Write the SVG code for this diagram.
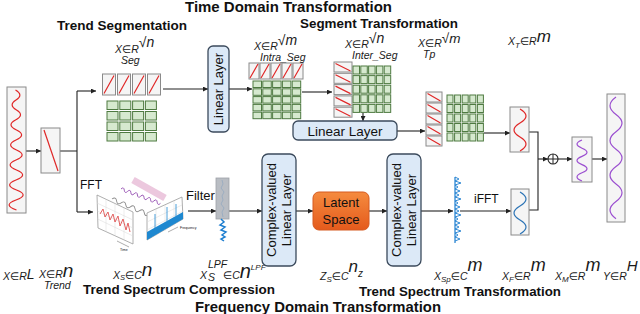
<svg xmlns="http://www.w3.org/2000/svg" xmlns:xlink="http://www.w3.org/1999/xlink" width="640" height="314" viewBox="0 0 640 314">
<defs>
<style>
.tb{font-family:"Liberation Sans",Arial,sans-serif;font-weight:bold;fill:#111}
.tx{font-family:"Liberation Sans",Arial,sans-serif;fill:#111}
.m{font-family:"Liberation Sans","DejaVu Sans",sans-serif;font-style:italic;fill:#1a1a1a;font-size:10.5px}
.bx{fill:#f5f5f5;stroke:#8a8a8a;stroke-width:1}
.gc{fill:#d6e9cf;stroke:#4e7a41;stroke-width:1}
.rd{stroke:#e02828;stroke-width:1.2;fill:none}
.ll{fill:#dce9f7;stroke:#3b4a5c;stroke-width:1.3}
.cn{fill:none;stroke:#222;stroke-width:1.1}
.ar{marker-end:url(#ah)}
.wave{fill:none;stroke-width:1.2}
</style>
<marker id="ah" viewBox="0 0 6 6" refX="6" refY="3" markerWidth="5" markerHeight="5" orient="auto" markerUnits="userSpaceOnUse">
<path d="M0,0 L6,3 L0,6 z" fill="#222"/>
</marker>
<linearGradient id="og" x1="0" y1="0" x2="0" y2="1">
<stop offset="0" stop-color="#f58b3f"/>
<stop offset="1" stop-color="#e45a1c"/>
</linearGradient>
<g id="segrow">
<rect class="gc" x="107" y="101" width="11" height="8.5"/>
<rect class="gc" x="119.8" y="101" width="11" height="8.5"/>
<rect class="gc" x="132.6" y="101" width="11" height="8.5"/>
<rect class="gc" x="145.4" y="101" width="11" height="8.5"/>
</g>
<g id="intrarow">
<rect class="gc" x="253" y="81" width="8.5" height="6.5"/>
<rect class="gc" x="262.8" y="81" width="8.5" height="6.5"/>
<rect class="gc" x="272.6" y="81" width="8.5" height="6.5"/>
<rect class="gc" x="282.4" y="81" width="8.5" height="6.5"/>
<rect class="gc" x="292.2" y="81" width="8.5" height="6.5"/>
</g>
<g id="interrow">
<rect class="gc" x="353" y="66" width="6.5" height="8"/>
<rect class="gc" x="360.8" y="66" width="6.5" height="8"/>
<rect class="gc" x="368.6" y="66" width="6.5" height="8"/>
<rect class="gc" x="376.4" y="66" width="6.5" height="8"/>
<rect class="gc" x="384.2" y="66" width="6.5" height="8"/>
</g>
<g id="tprow">
<rect class="gc" x="447" y="95" width="6" height="8"/>
<rect class="gc" x="454.6" y="95" width="6" height="8"/>
<rect class="gc" x="462.2" y="95" width="6" height="8"/>
<rect class="gc" x="469.8" y="95" width="6" height="8"/>
<rect class="gc" x="477.4" y="95" width="6" height="8"/>
</g>
</defs>
<rect width="640" height="314" fill="#fff"/>

<!-- titles -->
<text class="tb" x="185" y="12" font-size="14.8" textLength="207" lengthAdjust="spacingAndGlyphs">Time Domain Transformation</text>
<text class="tb" x="57" y="30" font-size="13.3" textLength="130" lengthAdjust="spacingAndGlyphs">Trend Segmentation</text>
<text class="tb" x="300" y="27.5" font-size="13.3" textLength="158" lengthAdjust="spacingAndGlyphs">Segment Transformation</text>
<text class="tb" x="83" y="294" font-size="13.3" textLength="192" lengthAdjust="spacingAndGlyphs">Trend Spectrum Compression</text>
<text class="tb" x="359" y="295.5" font-size="13.3" textLength="202" lengthAdjust="spacingAndGlyphs">Trend Spectrum Transformation</text>
<text class="tb" x="195" y="311.5" font-size="14.8" textLength="246" lengthAdjust="spacingAndGlyphs">Frequency Domain Transformation</text>

<!-- connectors -->
<g id="connectors">
<path class="cn ar" d="M26,151 H41"/>
<path class="cn" d="M60,151 H77 M77,91 V212"/>
<path class="cn ar" d="M77,91 H96"/>
<path class="cn ar" d="M77,212 H93"/>
<path class="cn ar" d="M163,89 H208"/>
<path class="cn ar" d="M229,89 H252"/>
<path class="cn ar" d="M302,92 H332"/>
<path class="cn ar" d="M363,113 V121"/>
<path class="cn ar" d="M397,131 H425"/>
<path class="cn ar" d="M484,133 H510"/>
<path class="cn" d="M529,132 H538 V210 H529"/>
<path class="cn ar" d="M538,159 H548"/>
<path class="cn ar" d="M558,159 H572"/>
<path class="cn ar" d="M592,159 H607"/>
<path class="cn ar" d="M188,211 H216"/>
<path class="cn ar" d="M229,211 H262"/>
<path class="cn ar" d="M296,211 H313"/>
<path class="cn ar" d="M369,211 H387"/>
<path class="cn ar" d="M421,211 H453"/>
<path class="cn ar" d="M460,211 H511"/>
</g>

<!-- input series -->
<g id="input">
<rect class="bx" x="7" y="87" width="19" height="126" fill="#fff"/>
<path class="wave" stroke="#e02828" d="M15.5,90 Q24,95 16,100 T16.5,110 T15.5,120 T16.5,130 T16,140 T16.5,150 T16,160 T16.5,170 T16,180 T16.5,190 T16,200 T16.5,210"/>
<text class="m" x="3" y="280">X∈R<tspan dy="-1" font-size="14">L</tspan></text>
</g>

<!-- trend -->
<g id="trend">
<rect class="bx" x="41" y="128" width="19" height="45"/>
<path class="rd" d="M44,130 L58,171"/>
<text class="m" x="39" y="278">X∈R<tspan dy="-1.5" font-size="19">n</tspan></text>
<text class="m" x="44" y="288.5" font-size="9">Trend</text>
</g>

<!-- segmentation -->
<g id="seg">
<rect class="bx" x="102.5" y="74" width="13" height="21"/>
<rect class="bx" x="117.5" y="74" width="13" height="21"/>
<rect class="bx" x="132.5" y="74" width="13" height="21"/>
<rect class="bx" x="147.5" y="74" width="13" height="21"/>
<path class="rd" d="M104,93.5 L114,75.5 M119,93.5 L129,75.5 M134,93.5 L144,75.5 M149,93.5 L159,75.5"/>
<use xlink:href="#segrow"/>
<use xlink:href="#segrow" y="10.5"/>
<use xlink:href="#segrow" y="21"/>
<use xlink:href="#segrow" y="31.5"/>
<text class="m" x="115" y="53" font-size="12">X∈R<tspan dy="-6" font-size="14">√n</tspan></text>
<text class="m" x="121" y="64" font-size="9.5">Seg</text>
</g>

<!-- linear layer vertical -->
<g id="linear1">
<rect class="ll" x="208" y="46" width="21" height="86" rx="5"/>
<text class="tx" font-size="13" text-anchor="middle" transform="translate(223,89) rotate(-90)">Linear Layer</text>
</g>

<!-- intra seg -->
<g id="intra">
<rect class="bx" x="249" y="63" width="10" height="16"/>
<rect class="bx" x="260" y="63" width="10" height="16"/>
<rect class="bx" x="271" y="63" width="10" height="16"/>
<rect class="bx" x="282" y="63" width="10" height="16"/>
<rect class="bx" x="293" y="63" width="10" height="16"/>
<path class="rd" d="M250,78 L258,64 M261,78 L269,64 M272,78 L280,64 M283,78 L291,64 M294,78 L302,64"/>
<use xlink:href="#intrarow"/>
<use xlink:href="#intrarow" y="7.8"/>
<use xlink:href="#intrarow" y="15.6"/>
<use xlink:href="#intrarow" y="23.4"/>
<use xlink:href="#intrarow" y="31.2"/>
<text class="m" x="254" y="50" font-size="12">X∈R<tspan dy="-5" font-size="14">√m</tspan></text>
<text class="m" x="260" y="60.5" font-size="9.5">Intra_Seg</text>
</g>

<!-- inter seg -->
<g id="inter">
<rect class="bx" x="334" y="62" width="18" height="10"/>
<rect class="bx" x="334" y="73.3" width="18" height="10"/>
<rect class="bx" x="334" y="84.6" width="18" height="10"/>
<rect class="bx" x="334" y="95.9" width="18" height="10"/>
<rect class="bx" x="334" y="107.2" width="18" height="10"/>
<path class="rd" d="M335.5,63.5 L350.5,71 M335.5,74.8 L350.5,82.3 M335.5,86.1 L350.5,93.6 M335.5,97.4 L350.5,104.9 M335.5,108.7 L350.5,116.2"/>
<use xlink:href="#interrow"/>
<use xlink:href="#interrow" y="9.6"/>
<use xlink:href="#interrow" y="19.2"/>
<use xlink:href="#interrow" y="28.8"/>
<use xlink:href="#interrow" y="38.4"/>
<text class="m" x="345" y="48" font-size="12">X∈R<tspan dy="-5" font-size="14">√n</tspan></text>
<text class="m" x="352" y="59" font-size="9.5">Inter_Seg</text>
</g>

<!-- linear layer horizontal -->
<g id="linear2">
<rect class="ll" x="293" y="121" width="104" height="19" rx="5"/>
<text class="tx" x="345" y="135.5" font-size="13.5" text-anchor="middle">Linear Layer</text>
</g>

<!-- Tp -->
<g id="tp">
<rect class="bx" x="426" y="92" width="16" height="10"/>
<rect class="bx" x="426" y="103" width="16" height="10"/>
<rect class="bx" x="426" y="114" width="16" height="10"/>
<rect class="bx" x="426" y="125" width="16" height="10"/>
<rect class="bx" x="426" y="136" width="16" height="10"/>
<path class="rd" d="M427.5,93.5 L440.5,101 M427.5,104.5 L440.5,112 M427.5,115.5 L440.5,123 M427.5,126.5 L440.5,134 M427.5,137.5 L440.5,145"/>
<use xlink:href="#tprow"/>
<use xlink:href="#tprow" y="9.5"/>
<use xlink:href="#tprow" y="19"/>
<use xlink:href="#tprow" y="28.5"/>
<use xlink:href="#tprow" y="38"/>
<text class="m" x="418" y="47" font-size="12">X∈R<tspan dy="-4" font-size="13.5">√m</tspan></text>
<text class="m" x="423" y="58" font-size="9">Tp</text>
</g>

<!-- XT -->
<g id="xt">
<rect class="bx" x="510" y="107" width="19" height="45" fill="#fff"/>
<path class="wave" stroke="#e02828" d="M520,109 Q532,116 520,123 T520,137 T520,151"/>
<text class="m" x="508" y="45" font-size="12">X<tspan dy="3" font-size="8">T</tspan><tspan dy="-3">∈R</tspan><tspan dy="-3" font-size="17">m</tspan></text>
</g>

<!-- sum -->
<g id="sum">
<circle cx="553" cy="159" r="5" fill="#fff" stroke="#222" stroke-width="1.1"/>
<path d="M548,159 H558 M553,154 V164" stroke="#222" stroke-width="1"/>
</g>

<!-- XM -->
<g id="xm">
<rect class="bx" x="572" y="137" width="20" height="45" fill="#fff"/>
<path class="wave" stroke="#9b4fd0" d="M582,140 Q572,144.1 582,148.2 T582,156.4 T582,164.6 T582,172.8 T582,181"/>
<text class="m" x="555" y="280">X<tspan dy="2" font-size="8">M</tspan><tspan dy="-2">∈R</tspan><tspan dy="-9" font-size="18">m</tspan></text>
</g>

<!-- Y -->
<g id="y">
<rect class="bx" x="607" y="94" width="18" height="128" fill="#fff"/>
<path class="wave" stroke="#9b4fd0" d="M616,97 Q604,105.7 616,114.4 T616,131.8 T616,149.2 T616,166.6 T616,184 T616,201.4 T616,218.8"/>
<text class="m" x="603" y="280">Y∈R<tspan dy="-9" font-size="15">H</tspan></text>
</g>

<!-- FFT -->
<g id="fft">
<text class="tx" x="80" y="189" font-size="12">FFT</text>
<path d="M133,180 L165,198" stroke="#ecc8de" stroke-width="7"/>
<path transform="translate(112,199) rotate(23)" fill="none" stroke="#888" stroke-width="0.9" d="M0,0 q2.5,-4 5,0 t5,0 t5,0 t5,0 t5,0 t5,0 t5,0 t5,0 t5,0 t5,0"/>
<path transform="translate(121,189) rotate(20)" fill="none" stroke="#9b59b6" stroke-width="0.9" d="M0,0 q1.75,-3.5 3.5,0 t3.5,0 t3.5,0 t3.5,0 t3.5,0 t3.5,0 t3.5,0 t3.5,0 t3.5,0 t3.5,0 t3.5,0 t3.5,0"/>
<polygon points="97,195 133,212 133,244 98,228" fill="#fff" stroke="#999" stroke-width="0.8"/>
<path d="M97,203 L133,220 M97.3,211 L133,228 M97.7,219 L133,236 M106,199.2 V231.7 M115,203.4 V235.8 M124,207.7 V239.9" stroke="#d8d8d8" stroke-width="0.5"/>
<polyline points="100,214 103,209 105,217 108,212 110,220 113,214 115,222 118,216 120,226 123,219 126,230 128,223 130,232" fill="none" stroke="#e05050" stroke-width="0.9"/>
<polygon points="147,213 182,197 183,219 147,240" fill="#fff" stroke="#999" stroke-width="0.8"/>
<path d="M147,222 L182,205 M147,230 L183,211 M156,209 V236 M165,205 V231 M174,201 V226" stroke="#d8d8d8" stroke-width="0.5"/>
<polygon points="147,232 183,212 183,219 147,240" fill="#1e88d0"/>
<path d="M155,228 V214 M167,221 V207 M176,216 V204" stroke="#1e88d0" stroke-width="0.8"/>
<path d="M117,241 L129,247 M168,232 L178,227" stroke="#777" stroke-width="0.6"/>
<text class="tx" x="120" y="251" font-size="3.5" fill="#666">Time</text>
<text class="tx" x="180" y="229" font-size="3.5" fill="#666">Frequency</text>
<text class="m" x="113" y="279">X<tspan dy="1" font-size="7.5">S</tspan><tspan dy="-1">∈C</tspan><tspan dy="-3" font-size="19">n</tspan></text>
</g>

<!-- filter -->
<g id="filter">
<text class="tx" x="186" y="200" font-size="13">Filter</text>
<rect x="216" y="178" width="13" height="41" fill="#b9bdc3" stroke="#9ea2a8" stroke-width="0.8"/>
<polyline points="222,180 223,184 221,188 224,192 222,196 223,200 221,204 224,208 222,212 223,217" fill="none" stroke="#8fa6c0" stroke-width="0.7"/>
<polyline points="221,219 224,222 220,225 225,227 221,230 226,232 222,235 225,237 221,239 224,241" fill="none" stroke="#1e7fd0" stroke-width="1.5"/>
<text class="m" x="200" y="279">X</text>
<text class="m" x="208" y="280.5" font-size="7.5">S</text>
<text class="m" x="208" y="268" font-size="8">LPF</text>
<text class="m" x="223" y="279">∈C<tspan dy="-1" font-size="20">n</tspan><tspan dy="-8" font-size="8">LPF</tspan></text>
</g>

<!-- complex-valued 1 -->
<g id="complex1">
<rect class="ll" x="262" y="154" width="34" height="112" rx="6"/>
<text class="tx" font-size="13" text-anchor="middle" transform="translate(275.5,210) rotate(-90)">Complex-valued</text>
<text class="tx" font-size="13" text-anchor="middle" transform="translate(291,210) rotate(-90)">Linear Layer</text>
</g>

<!-- latent -->
<g id="latent">
<rect x="313" y="192" width="56" height="38" rx="6" fill="url(#og)" stroke="#d65a20" stroke-width="1"/>
<text class="tx" x="341" y="207" font-size="13" text-anchor="middle">Latent</text>
<text class="tx" x="341" y="224" font-size="13" text-anchor="middle">Space</text>
<text class="m" x="320" y="280">Z<tspan dy="2" font-size="8">S</tspan><tspan dy="-2">∈C</tspan><tspan dy="-8" font-size="17">n</tspan><tspan dy="5" font-size="10">z</tspan></text>
</g>

<!-- complex-valued 2 -->
<g id="complex2">
<rect class="ll" x="387" y="154" width="34" height="112" rx="6"/>
<text class="tx" font-size="13" text-anchor="middle" transform="translate(400.5,210) rotate(-90)">Complex-valued</text>
<text class="tx" font-size="13" text-anchor="middle" transform="translate(416,210) rotate(-90)">Linear Layer</text>
</g>

<!-- Xsp -->
<g id="xsp">
<path d="M455,177 V243" stroke="#1e7fd0" stroke-width="1.2"/>
<path fill="none" stroke="#1e7fd0" stroke-width="0.9" d="M455,177 l4,2 l-4,2 l6,2 l-6,2 l3,2 l-3,2 l5,2 l-5,2 l4,2 l-4,2 l6,2 l-6,2 l3,2 l-3,2 l5,2 l-5,2 l4,2 l-4,2 l6,2 l-6,2 l3,2 l-3,2 l5,2 l-5,2 l4,2 l-4,2 l6,2 l-6,2 l3,2 l-3,2 l5,2 l-5,2"/>
<text class="tx" x="474" y="203" font-size="12">iFFT</text>
<text class="m" x="434" y="280">X<tspan dy="2" font-size="8">Sp</tspan><tspan dy="-2">∈C</tspan><tspan dy="-9" font-size="18">m</tspan></text>
</g>

<!-- XF -->
<g id="xf">
<rect class="bx" x="511" y="189" width="18" height="46" fill="#fff"/>
<path class="wave" stroke="#2e75b6" d="M520,192 Q532,199 520,206 T520,220 T520,234"/>
<text class="m" x="502" y="280">X<tspan dy="2" font-size="8">F</tspan><tspan dy="-2">∈R</tspan><tspan dy="-9" font-size="18">m</tspan></text>
</g>
</svg>
